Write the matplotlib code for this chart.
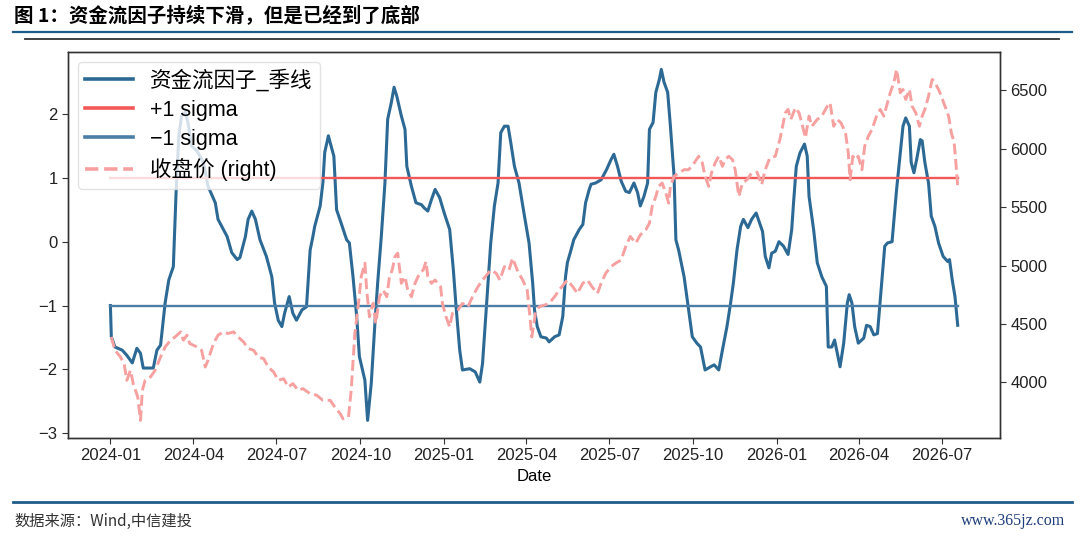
import datetime as dt
import numpy as np
import matplotlib
matplotlib.use("Agg")
import matplotlib.pyplot as plt
import matplotlib.dates as mdates
from matplotlib.lines import Line2D

plt.rcParams['font.family'] = ['Liberation Sans', 'Noto Sans CJK SC', 'DejaVu Sans']
plt.rcParams['axes.unicode_minus'] = True

start = dt.date(2024, 1, 1)

# 资金流因子_季线 (days after 2024-01-01, value)
factor_days = [0, 1, 5, 13, 18, 24, 29, 33, 36, 47, 51, 55, 60, 64, 69, 72, 75, 78, 82, 85,
               89, 95, 102, 107, 115, 118, 124, 128, 133, 139, 142, 148, 151, 155, 159, 164, 171, 177, 180, 184,
               188, 191, 196, 200, 204, 210, 215, 219, 222, 224, 230, 233, 235, 239, 241, 245, 248, 253, 259, 262,
               266, 270, 273, 279, 282, 286, 290, 293, 297, 301, 304, 308, 311, 314, 319, 323, 325, 330, 335, 341,
               344, 348, 352, 356, 361, 366, 372, 376, 379, 383, 386, 394, 400, 405, 408, 412, 417, 421, 425, 428,
               432, 436, 439, 443, 448, 454, 459, 463, 465, 468, 472, 478, 481, 487, 492, 496, 499, 501, 505, 508,
               514, 518, 521, 525, 527, 532, 538, 544, 549, 552, 556, 560, 565, 569, 574, 578, 581, 585, 589, 591,
               595, 598, 602, 604, 607, 611, 614, 618, 620, 623, 629, 634, 638, 643, 647, 652, 658, 662, 667, 671,
               676, 680, 683, 687, 691, 694, 699, 703, 708, 713, 715, 718, 722, 725, 729, 733, 738, 743, 747, 749,
               752, 756, 761, 764, 766, 771, 775, 780, 785, 787, 791, 794, 797, 800, 804, 808, 810, 813, 816, 820,
               826, 829, 833, 837, 841, 845, 849, 852, 857, 862, 866, 869, 872, 876, 878, 881, 884, 888, 890, 893,
               897, 900, 904, 908, 913, 918, 920, 923, 926, 929]
factor_vals = [-1.00, -1.49, -1.65, -1.70, -1.78, -1.90, -1.67, -1.75, -1.98, -1.98, -1.70, -1.62, -0.96, -0.60, -0.39, 0.77, 1.66, 1.97, 2.03, 1.87,
               1.50, 1.42, 1.24, 0.87, 0.61, 0.35, 0.19, 0.08, -0.17, -0.28, -0.25, 0.08, 0.35, 0.48, 0.35, 0.03, -0.23, -0.55, -0.96, -1.23,
               -1.33, -1.12, -0.86, -1.12, -1.23, -1.07, -1.02, -0.13, 0.08, 0.24, 0.56, 0.93, 1.40, 1.66, 1.55, 1.34, 0.50, 0.29, 0.03, -0.02,
               -0.55, -1.17, -1.80, -2.17, -2.80, -2.22, -1.28, -0.65, 0.08, 0.92, 1.92, 2.18, 2.42, 2.28, 1.97, 1.76, 1.18, 0.87, 0.61, 0.58,
               0.53, 0.48, 0.66, 0.82, 0.69, 0.45, 0.19, -0.44, -1.02, -1.70, -2.01, -1.99, -2.04, -2.20, -1.91, -1.07, -0.02, 0.56, 0.92, 1.71,
               1.81, 1.81, 1.55, 1.18, 0.92, 0.40, -0.02, -0.65, -1.07, -1.33, -1.49, -1.51, -1.57, -1.49, -1.46, -1.17, -0.55, -0.33, -0.13, 0.03,
               0.19, 0.27, 0.61, 0.82, 0.90, 0.92, 0.97, 1.13, 1.29, 1.37, 1.18, 0.95, 0.79, 0.77, 0.92, 0.77, 0.56, 0.71, 0.92, 1.76,
               1.87, 2.34, 2.55, 2.70, 2.50, 2.34, 1.81, 1.03, 0.03, -0.13, -0.55, -1.07, -1.49, -1.59, -1.65, -2.01, -1.96, -1.93, -2.01, -1.70,
               -1.33, -0.96, -0.65, -0.13, 0.24, 0.35, 0.22, 0.35, 0.45, 0.24, 0.16, -0.23, -0.41, -0.18, -0.15, 0.00, -0.07, -0.20, 0.19, 0.61,
               1.18, 1.39, 1.53, 1.34, 0.71, 0.19, -0.33, -0.55, -0.70, -1.65, -1.65, -1.54, -1.75, -1.96, -1.59, -0.96, -0.83, -0.96, -1.33, -1.59,
               -1.51, -1.31, -1.33, -1.46, -1.44, -0.75, -0.07, -0.02, 0.00, 0.82, 1.39, 1.81, 1.94, 1.81, 1.24, 1.08, 1.29, 1.60, 1.58, 1.24,
               0.92, 0.40, 0.24, -0.02, -0.23, -0.31, -0.28, -0.60, -0.86, -1.31]

# 收盘价 (days after 2024-01-01, close)
price_days = [1, 5, 11, 15, 18, 22, 25, 30, 33, 35, 38, 44, 49, 55, 60, 66, 71, 77, 80, 84,
              87, 95, 100, 104, 107, 113, 118, 124, 129, 135, 140, 146, 151, 157, 162, 168, 173, 179, 184, 190,
              195, 200, 206, 211, 219, 226, 233, 241, 246, 252, 255, 261, 264, 268, 272, 275, 279, 281, 284, 288,
              291, 295, 299, 303, 306, 309, 312, 315, 319, 323, 326, 330, 334, 339, 343, 346, 348, 352, 356, 362,
              364, 368, 372, 375, 381, 386, 392, 397, 403, 408, 414, 417, 423, 427, 432, 437, 441, 446, 452, 457,
              460, 462, 466, 470, 476, 481, 487, 492, 498, 501, 507, 512, 518, 523, 528, 534, 538, 543, 549, 554,
              560, 565, 570, 576, 581, 587, 591, 594, 598, 601, 605, 609, 612, 614, 618, 623, 629, 634, 640, 645,
              649, 652, 656, 659, 663, 667, 671, 674, 678, 682, 685, 689, 693, 698, 703, 709, 714, 718, 723, 729,
              734, 740, 743, 746, 751, 755, 758, 762, 766, 769, 775, 780, 786, 789, 793, 797, 801, 806, 809, 811,
              814, 816, 820, 824, 827, 831, 835, 840, 844, 848, 851, 855, 859, 862, 866, 869, 872, 876, 879, 883,
              887, 890, 893, 897, 901, 904, 908, 911, 915, 919, 922, 925, 927, 929]
price_vals = [4389, 4275, 4217, 4161, 4017, 4103, 3989, 3874, 3674, 3931, 4017, 4046, 4103, 4217, 4303, 4361, 4389, 4432, 4361, 4404,
              4332, 4303, 4275, 4131, 4189, 4332, 4404, 4432, 4418, 4432, 4389, 4346, 4289, 4275, 4217, 4203, 4131, 4088, 4017, 4031,
              3960, 3989, 3931, 3946, 3903, 3890, 3846, 3846, 3789, 3731, 3688, 3702, 3931, 4418, 4676, 4905, 5020, 4790, 4561, 4676,
              4504, 4733, 4790, 4733, 4905, 4962, 5077, 5106, 4848, 4905, 4790, 4733, 4848, 4934, 4962, 5034, 4905, 4848, 4876, 4819,
              4676, 4561, 4475, 4590, 4619, 4676, 4647, 4733, 4819, 4876, 4934, 4962, 4934, 4876, 4991, 4962, 5063, 4962, 4876, 4790,
              4561, 4389, 4590, 4647, 4662, 4676, 4733, 4790, 4848, 4876, 4819, 4762, 4848, 4876, 4819, 4762, 4848, 4934, 4991, 5020,
              5048, 5163, 5249, 5192, 5263, 5306, 5363, 5506, 5592, 5678, 5707, 5621, 5535, 5678, 5764, 5792, 5821, 5821, 5878, 5936,
              5878, 5764, 5678, 5792, 5878, 5936, 5850, 5907, 5936, 5907, 5821, 5592, 5707, 5735, 5792, 5800, 5692, 5821, 5922, 5936,
              6079, 6308, 6337, 6251, 6351, 6308, 6222, 6094, 6280, 6193, 6251, 6280, 6365, 6394, 6193, 6251, 6222, 6136, 5965, 5735,
              5936, 5907, 5936, 5821, 6022, 6108, 6165, 6280, 6337, 6280, 6365, 6480, 6566, 6680, 6480, 6508, 6423, 6508, 6365, 6308,
              6193, 6280, 6337, 6451, 6594, 6566, 6508, 6451, 6365, 6280, 6136, 6059, 5878, 5678]

sigma = 1.0

factor_dates = [start + dt.timedelta(days=d) for d in factor_days]
price_dates = [start + dt.timedelta(days=d) for d in price_days]

c_factor = '#2c6a95'
c_up = '#f25858'
c_dn = '#4b7ea6'
c_price = '#f7a0a0'

fig = plt.figure(figsize=(10.8, 5.4), dpi=100)
ax = fig.add_axes([0.063, 0.189, 0.863, 0.715])
ax2 = ax.twinx()

ax.plot(factor_dates, factor_vals, color=c_factor, lw=2.2, solid_joinstyle='round')
ax.plot(factor_dates, [sigma] * len(factor_dates), color=c_up, lw=1.7)
ax.plot(factor_dates, [-sigma] * len(factor_dates), color=c_dn, lw=1.7)
ax2.plot(price_dates, price_vals, color=c_price, lw=2.1, ls='--')

ax.xaxis.set_major_locator(mdates.MonthLocator(bymonth=[1, 4, 7, 10]))
ax.xaxis.set_major_formatter(mdates.DateFormatter('%Y-%m'))
ax.set_xlabel('Date', fontsize=12)
for a in (ax, ax2):
    a.tick_params(labelsize=12, length=4, color='#333333', labelcolor='#222222')
    for s in a.spines.values():
        s.set_color('#333333')
        s.set_linewidth(1.0)
ax2.set_yticks([4000, 4500, 5000, 5500, 6000, 6500])

handles = [Line2D([], [], color=c_factor, lw=2.6),
           Line2D([], [], color=c_up, lw=2.6),
           Line2D([], [], color=c_dn, lw=2.6),
           Line2D([], [], color=c_price, lw=2.6, ls='--')]
labels = ['资金流因子_季线', '+1 sigma', '\u22121 sigma', '收盘价 (right)']
ax2.legend(handles, labels, loc='upper left', fontsize=15.5, handlelength=2.2,
           borderaxespad=0.45, labelspacing=0.38, borderpad=0.35, handletextpad=0.8,
           edgecolor='#dddddd')

# header / footer
fig.text(0.013, 0.972, '图 1：资金流因子持续下滑，但是已经到了底部', fontsize=14,
         fontweight='bold', family=['Noto Sans CJK SC'], va='center', ha='left')
fig.add_artist(Line2D([0.012, 0.993], [1 - 31.5 / 540] * 2, color='#1f5c8a', lw=1.6))
fig.add_artist(Line2D([0.023, 0.981], [1 - 39 / 540] * 2, color='#333333', lw=1.3))
fig.add_artist(Line2D([0.012, 0.993], [1 - 502 / 540] * 2, color='#1f5c8a', lw=2.0))
fig.text(0.013, 1 - 521 / 540, '数据来源：Wind,中信建投', fontsize=11, style='italic',
         family=['Noto Sans CJK SC'], va='center', ha='left', color='#333333')
fig.text(0.986, 1 - 521 / 540, 'www.365jz.com', fontsize=11.5, va='center', ha='right',
         color='#1f3f7a', family=['Liberation Serif'])

fig.savefig('out.png', dpi=100)
